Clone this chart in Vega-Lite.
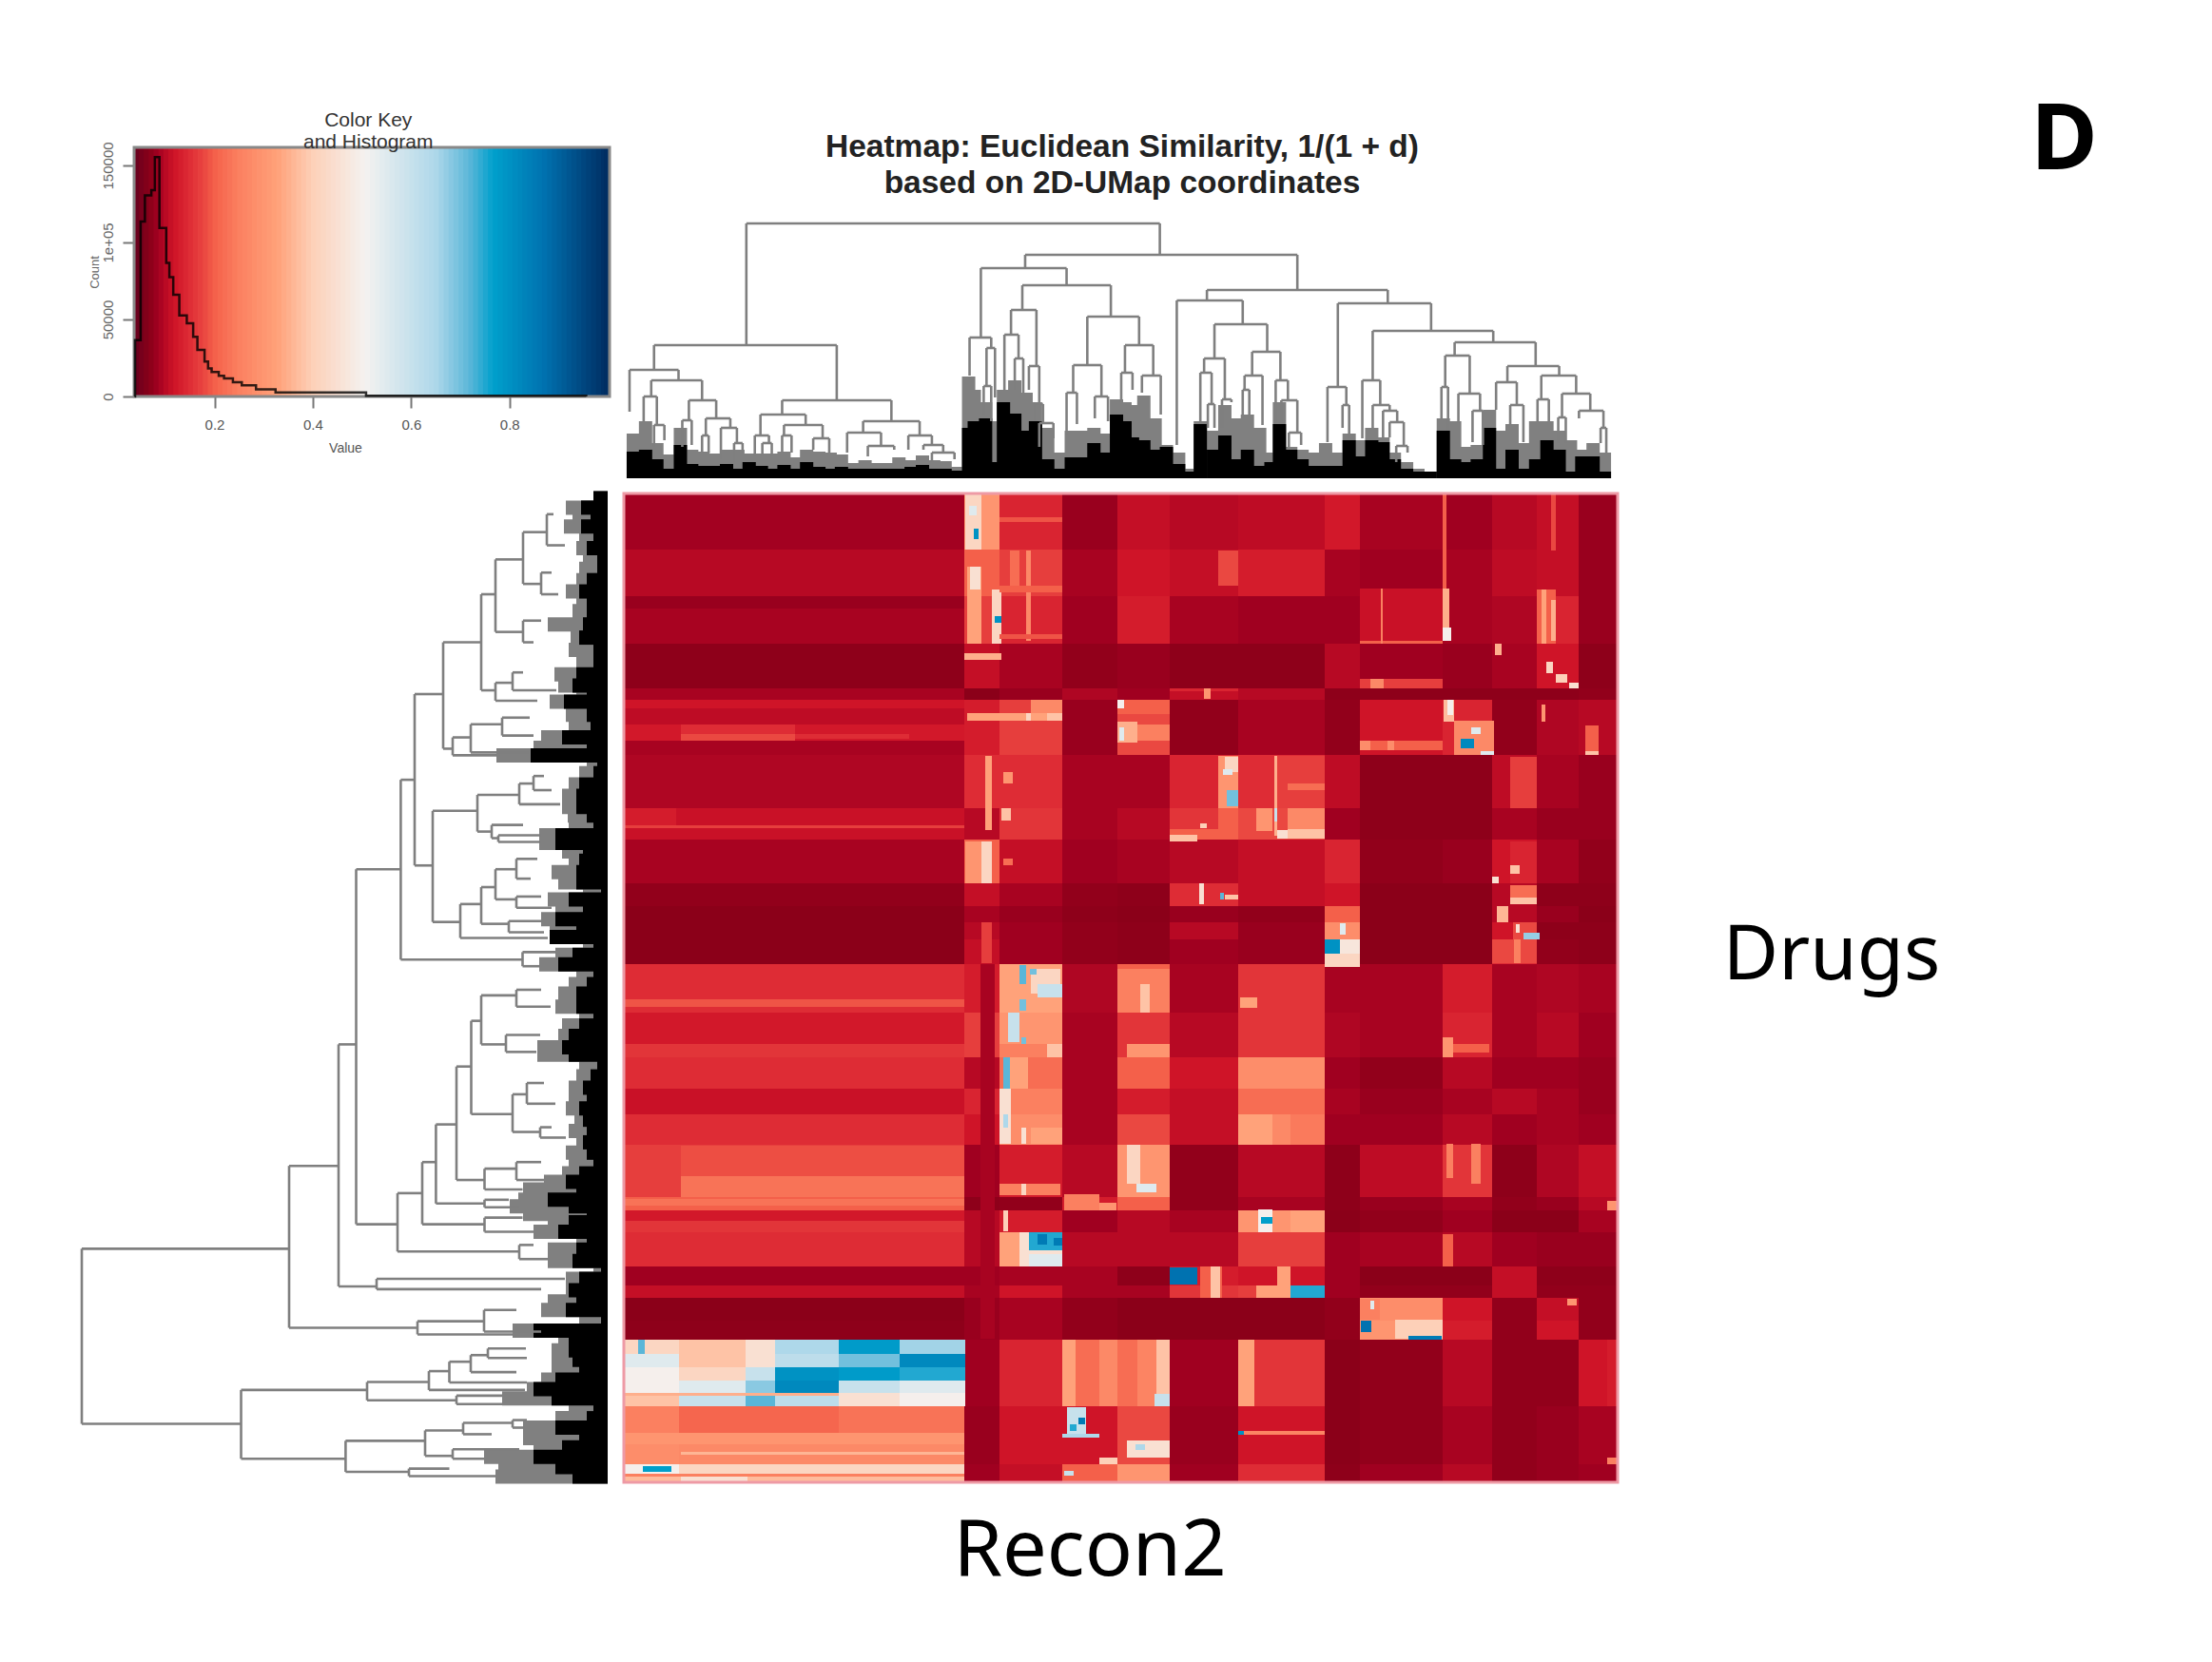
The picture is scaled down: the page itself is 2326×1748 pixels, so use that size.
{"$schema":"https://vega.github.io/schema/vega-lite/v6.json","background":"white","padding":{"left":84,"top":101,"right":10,"bottom":10},"columns":2,"bounds":"flat","align":"each","spacing":{"row":13,"column":11},"config":{"view":{"stroke":null}},
"datasets":{
"hist":[{"k":0.0375,"c":0},{"k":0.0385,"c":36500},{"k":0.0498,"c":113500},{"k":0.0585,"c":130600},{"k":0.0715,"c":134000},{"k":0.0787,"c":155400},{"k":0.0881,"c":109400},{"k":0.1018,"c":86700},{"k":0.1083,"c":77400},{"k":0.1162,"c":66000},{"k":0.1285,"c":52600},{"k":0.1437,"c":47500},{"k":0.1567,"c":38800},{"k":0.1653,"c":30300},{"k":0.1798,"c":22700},{"k":0.187,"c":18200},{"k":0.1942,"c":15900},{"k":0.2087,"c":13400},{"k":0.2195,"c":11800},{"k":0.2375,"c":9300},{"k":0.2556,"c":7200},{"k":0.2845,"c":4700},{"k":0.3242,"c":2700},{"k":0.5083,"c":500},{"k":0.956,"c":0}],
"grad":[{"k":0.042},{"k":0.052},{"k":0.062},{"k":0.072},{"k":0.082},{"k":0.092},{"k":0.102},{"k":0.112},{"k":0.122},{"k":0.132},{"k":0.142},{"k":0.152},{"k":0.162},{"k":0.172},{"k":0.182},{"k":0.192},{"k":0.202},{"k":0.212},{"k":0.222},{"k":0.232},{"k":0.242},{"k":0.252},{"k":0.262},{"k":0.272},{"k":0.282},{"k":0.292},{"k":0.302},{"k":0.312},{"k":0.322},{"k":0.332},{"k":0.342},{"k":0.352},{"k":0.362},{"k":0.372},{"k":0.382},{"k":0.392},{"k":0.402},{"k":0.412},{"k":0.422},{"k":0.432},{"k":0.442},{"k":0.452},{"k":0.462},{"k":0.472},{"k":0.482},{"k":0.492},{"k":0.502},{"k":0.512},{"k":0.522},{"k":0.532},{"k":0.542},{"k":0.552},{"k":0.562},{"k":0.572},{"k":0.582},{"k":0.592},{"k":0.602},{"k":0.612},{"k":0.622},{"k":0.632},{"k":0.642},{"k":0.652},{"k":0.662},{"k":0.672},{"k":0.682},{"k":0.692},{"k":0.702},{"k":0.712},{"k":0.722},{"k":0.732},{"k":0.742},{"k":0.752},{"k":0.762},{"k":0.772},{"k":0.782},{"k":0.792},{"k":0.802},{"k":0.812},{"k":0.822},{"k":0.832},{"k":0.842},{"k":0.852},{"k":0.862},{"k":0.872},{"k":0.882},{"k":0.892},{"k":0.902},{"k":0.912},{"k":0.922},{"k":0.932},{"k":0.942},{"k":0.952},{"k":0.962},{"k":0.972},{"k":0.982},{"k":0.992},{"k":0.998}],
"topTree":[{"l":125,"r":564,"h":268,"a":140,"b":235},{"l":421,"r":710,"h":235,"a":221,"b":198},{"l":374,"r":465,"h":221,"a":148,"b":203},{"l":418,"r":512,"h":203,"a":177,"b":170},{"l":406,"r":433,"h":177,"a":151,"b":118},{"l":399,"r":414,"h":151,"a":92,"b":126},{"l":410,"r":419,"h":126,"a":93,"b":90},{"l":425,"r":436,"h":118,"a":93,"b":78},{"l":431,"r":440,"h":78,"a":60,"b":58},{"l":436,"r":451,"h":58,"a":33,"b":42},{"l":362,"r":385,"h":148,"a":108,"b":137},{"l":380,"r":389,"h":137,"a":97,"b":85},{"l":377,"r":385,"h":97,"a":67,"b":60},{"l":487,"r":542,"h":170,"a":119,"b":140},{"l":472,"r":502,"h":119,"a":90,"b":86},{"l":465,"r":476,"h":90,"a":45,"b":57},{"l":495,"r":509,"h":86,"a":63,"b":60},{"l":527,"r":557,"h":140,"a":111,"b":108},{"l":523,"r":535,"h":111,"a":80,"b":93},{"l":545,"r":565,"h":108,"a":90,"b":67},{"l":614,"r":806,"h":198,"a":187,"b":184},{"l":582,"r":652,"h":187,"a":35,"b":162},{"l":622,"r":678,"h":162,"a":126,"b":133},{"l":611,"r":633,"h":126,"a":111,"b":83},{"l":607,"r":619,"h":111,"a":57,"b":78},{"l":615,"r":622,"h":78,"a":53,"b":53},{"l":630,"r":640,"h":83,"a":53,"b":80},{"l":662,"r":692,"h":133,"a":108,"b":103},{"l":654,"r":673,"h":108,"a":93,"b":56},{"l":652,"r":659,"h":93,"a":63,"b":67},{"l":687,"r":700,"h":103,"a":57,"b":82},{"l":693,"r":710,"h":82,"a":57,"b":48},{"l":701,"r":714,"h":48,"a":33,"b":35},{"l":753,"r":852,"h":184,"a":96,"b":155},{"l":742,"r":762,"h":96,"a":38,"b":77},{"l":758,"r":765,"h":77,"a":53,"b":42},{"l":790,"r":918,"h":155,"a":103,"b":143},{"l":779,"r":798,"h":103,"a":42,"b":77},{"l":790,"r":808,"h":77,"a":53,"b":71},{"l":801,"r":816,"h":71,"a":43,"b":59},{"l":808,"r":823,"h":59,"a":43,"b":34},{"l":815,"r":827,"h":34,"a":17,"b":27},{"l":877,"r":963,"h":143,"a":129,"b":118},{"l":867,"r":893,"h":129,"a":96,"b":89},{"l":863,"r":870,"h":96,"a":63,"b":50},{"l":881,"r":904,"h":89,"a":58,"b":71},{"l":896,"r":907,"h":71,"a":38,"b":35},{"l":933,"r":988,"h":118,"a":101,"b":108},{"l":921,"r":943,"h":101,"a":72,"b":77},{"l":936,"r":950,"h":77,"a":56,"b":38},{"l":969,"r":1006,"h":108,"a":83,"b":89},{"l":965,"r":977,"h":83,"a":60,"b":60},{"l":991,"r":1021,"h":89,"a":64,"b":71},{"l":987,"r":995,"h":64,"a":37,"b":37},{"l":1009,"r":1035,"h":71,"a":63,"b":53},{"l":1032,"r":1038,"h":53,"a":37,"b":27},{"l":27,"r":221,"h":140,"a":114,"b":82},{"l":1,"r":53,"h":114,"a":70,"b":103},{"l":24,"r":78,"h":103,"a":86,"b":82},{"l":16,"r":30,"h":86,"a":60,"b":56},{"l":27,"r":38,"h":56,"a":33,"b":40},{"l":64,"r":93,"h":82,"a":61,"b":63},{"l":57,"r":67,"h":61,"a":33,"b":35},{"l":82,"r":108,"h":63,"a":45,"b":53},{"l":78,"r":85,"h":45,"a":27,"b":27},{"l":98,"r":115,"h":53,"a":20,"b":37},{"l":112,"r":121,"h":37,"a":17,"b":27},{"l":163,"r":279,"h":82,"a":67,"b":60},{"l":140,"r":188,"h":67,"a":45,"b":56},{"l":134,"r":149,"h":45,"a":23,"b":37},{"l":142,"r":152,"h":37,"a":23,"b":23},{"l":165,"r":206,"h":56,"a":45,"b":42},{"l":163,"r":173,"h":45,"a":27,"b":27},{"l":196,"r":213,"h":42,"a":30,"b":27},{"l":249,"r":309,"h":60,"a":48,"b":45},{"l":232,"r":268,"h":48,"a":27,"b":34},{"l":254,"r":282,"h":34,"a":23,"b":30},{"l":297,"r":322,"h":45,"a":30,"b":35},{"l":313,"r":334,"h":35,"a":30,"b":27},{"l":322,"r":346,"h":27,"a":17,"b":20}],
"topComb":[{"x":5,"g":47,"b":28},{"x":9,"g":32,"b":12},{"x":18,"g":60,"b":30},{"x":30,"g":37,"b":20},{"x":43,"g":25,"b":10},{"x":55,"g":53,"b":35},{"x":67,"g":30,"b":15},{"x":79,"g":28,"b":13},{"x":91,"g":26,"b":13},{"x":104,"g":30,"b":15},{"x":116,"g":30,"b":10},{"x":128,"g":26,"b":17},{"x":141,"g":26,"b":13},{"x":153,"g":26,"b":10},{"x":165,"g":28,"b":14},{"x":177,"g":22,"b":10},{"x":189,"g":30,"b":17},{"x":202,"g":28,"b":12},{"x":214,"g":27,"b":10},{"x":226,"g":25,"b":12},{"x":238,"g":16,"b":10},{"x":251,"g":19,"b":10},{"x":263,"g":16,"b":10},{"x":275,"g":16,"b":10},{"x":287,"g":22,"b":10},{"x":300,"g":19,"b":12},{"x":312,"g":24,"b":14},{"x":324,"g":19,"b":10},{"x":336,"g":18,"b":10},{"x":349,"g":12,"b":8},{"x":361,"g":107,"b":53},{"x":367,"g":93,"b":60},{"x":379,"g":80,"b":63},{"x":391,"g":60,"b":17},{"x":398,"g":93,"b":80},{"x":410,"g":103,"b":68},{"x":422,"g":90,"b":50},{"x":432,"g":80,"b":60},{"x":445,"g":53,"b":20},{"x":457,"g":27,"b":10},{"x":470,"g":50,"b":22},{"x":482,"g":50,"b":22},{"x":494,"g":53,"b":37},{"x":506,"g":47,"b":27},{"x":518,"g":83,"b":67},{"x":527,"g":80,"b":60},{"x":535,"g":77,"b":43},{"x":547,"g":87,"b":40},{"x":559,"g":63,"b":30},{"x":571,"g":35,"b":33},{"x":584,"g":27,"b":15},{"x":596,"g":10,"b":7},{"x":607,"g":60,"b":57},{"x":621,"g":50,"b":30},{"x":633,"g":77,"b":45},{"x":645,"g":63,"b":20},{"x":657,"g":67,"b":30},{"x":670,"g":53,"b":13},{"x":682,"g":27,"b":17},{"x":691,"g":80,"b":57},{"x":703,"g":33,"b":30},{"x":715,"g":30,"b":20},{"x":728,"g":27,"b":13},{"x":740,"g":37,"b":13},{"x":752,"g":27,"b":13},{"x":765,"g":47,"b":40},{"x":777,"g":40,"b":23},{"x":789,"g":53,"b":40},{"x":801,"g":43,"b":38},{"x":813,"g":27,"b":20},{"x":826,"g":17,"b":10},{"x":838,"g":10,"b":7},{"x":851,"g":7,"b":7},{"x":865,"g":63,"b":50},{"x":877,"g":60,"b":20},{"x":889,"g":33,"b":17},{"x":901,"g":35,"b":20},{"x":914,"g":72,"b":53},{"x":926,"g":50,"b":10},{"x":938,"g":57,"b":30},{"x":951,"g":37,"b":10},{"x":963,"g":60,"b":20},{"x":975,"g":60,"b":40},{"x":988,"g":50,"b":30},{"x":1000,"g":40,"b":7},{"x":1012,"g":30,"b":23},{"x":1024,"g":37,"b":23},{"x":1036,"g":27,"b":7}],
"leftTree":[{"d":553,"t":797,"u":983,"a":335,"b":385.5},{"d":335,"t":709,"u":881,"a":283,"b":200},{"d":283,"t":580,"u":837,"a":264.5,"b":243},{"d":264.5,"t":394,"u":771,"a":217.6,"b":221},{"d":217.6,"t":299,"u":490,"a":203,"b":89.5},{"d":203,"t":208,"u":390,"a":173,"b":184},{"d":173,"t":153,"u":266,"a":133,"b":163},{"d":133,"t":102,"u":204,"a":118,"b":118},{"d":118,"t":65,"u":142,"a":89,"b":89},{"d":89,"t":36,"u":91,"a":64,"b":70},{"d":64,"t":17,"u":50,"a":57,"b":45},{"d":70,"t":79,"u":102,"a":59,"b":52},{"d":89,"t":130,"u":153,"a":70,"b":78},{"d":118,"t":196,"u":215,"a":100,"b":74},{"d":100,"t":185,"u":204,"a":89,"b":54},{"d":163,"t":254,"u":273,"a":144,"b":116.5},{"d":144,"t":240,"u":270,"a":111,"b":83},{"d":111,"t":233,"u":252,"a":82,"b":78},{"d":184,"t":332,"u":450,"a":137,"b":155},{"d":137,"t":315,"u":354,"a":93,"b":122},{"d":93,"t":303,"u":325,"a":78,"b":50},{"d":78,"t":295,"u":310,"a":67,"b":59},{"d":122,"t":347,"u":361,"a":89,"b":115},{"d":115,"t":358,"u":365,"a":70,"b":70},{"d":155,"t":431,"u":467,"a":133,"b":63},{"d":133,"t":413,"u":452,"a":118,"b":104},{"d":118,"t":394,"u":426,"a":96,"b":96},{"d":96,"t":383,"u":404,"a":74,"b":81},{"d":96,"t":423,"u":435,"a":70,"b":59},{"d":104,"t":449,"u":461,"a":70,"b":67},{"d":89.5,"t":482,"u":497,"a":55,"b":71},{"d":221,"t":738,"u":800,"a":195,"b":93},{"d":195,"t":705,"u":771,"a":180.6,"b":129.5},{"d":180.6,"t":665,"u":749,"a":159,"b":129.5},{"d":159,"t":603.5,"u":724,"a":143.5,"b":129.5},{"d":143.5,"t":555,"u":654,"a":133,"b":100},{"d":133,"t":528,"u":580,"a":96,"b":107},{"d":96,"t":522,"u":540,"a":70,"b":60},{"d":107,"t":570,"u":588,"a":71,"b":75},{"d":100,"t":633,"u":673,"a":85,"b":71},{"d":85,"t":621,"u":643,"a":67,"b":55},{"d":71,"t":668,"u":679,"a":59,"b":44},{"d":129.5,"t":712,"u":734,"a":96,"b":89.5},{"d":96,"t":705,"u":724,"a":70,"b":67},{"d":129.5,"t":745,"u":753,"a":104,"b":93},{"d":129.5,"t":764,"u":779,"a":89.5,"b":78},{"d":93,"t":793,"u":808,"a":78,"b":63},{"d":243,"t":829,"u":840,"a":45,"b":70},{"d":200,"t":874,"u":888,"a":130,"b":100},{"d":130,"t":862,"u":885,"a":96,"b":70},{"d":385.5,"t":947,"u":1020,"a":253,"b":275.6},{"d":253,"t":938.6,"u":958,"a":188,"b":159},{"d":188,"t":927,"u":947,"a":166.5,"b":87},{"d":166.5,"t":917,"u":939,"a":144,"b":85},{"d":144,"t":910,"u":928,"a":126,"b":96},{"d":126,"t":903,"u":913,"a":86,"b":85},{"d":159,"t":953,"u":962,"a":111,"b":111},{"d":275.6,"t":1001,"u":1034,"a":192,"b":209},{"d":192,"t":990,"u":1017,"a":152,"b":163},{"d":152,"t":982,"u":994,"a":100,"b":122},{"d":100,"t":979,"u":987,"a":85,"b":87},{"d":163,"t":1010,"u":1020,"a":93,"b":130},{"d":209,"t":1030.5,"u":1038.5,"a":166.5,"b":118}],
"leftComb":[{"v":0,"g":15,"b":15},{"v":10,"g":44,"b":28},{"v":22,"g":37,"b":18},{"v":30,"g":46,"b":28},{"v":41,"g":30,"b":15},{"v":53,"g":33,"b":22},{"v":63,"g":26,"b":11},{"v":75,"g":30,"b":11},{"v":87,"g":33,"b":22},{"v":99,"g":44,"b":30},{"v":110,"g":33,"b":22},{"v":120,"g":37,"b":22},{"v":134,"g":63,"b":26},{"v":148,"g":39,"b":30},{"v":161,"g":41,"b":15},{"v":175,"g":33,"b":15},{"v":187,"g":56,"b":33},{"v":199,"g":52,"b":37},{"v":208,"g":33,"b":22},{"v":216,"g":61,"b":46},{"v":230,"g":44,"b":22},{"v":241,"g":41,"b":18},{"v":254,"g":70,"b":48},{"v":265,"g":78,"b":22},{"v":273,"g":117,"b":81},{"v":280,"g":22,"b":11},{"v":292,"g":30,"b":15},{"v":304,"g":41,"b":30},{"v":316,"g":48,"b":33},{"v":328,"g":48,"b":33},{"v":337,"g":42,"b":22},{"v":347,"g":41,"b":15},{"v":358,"g":72,"b":55},{"v":366,"g":72,"b":55},{"v":375,"g":48,"b":26},{"v":385,"g":41,"b":30},{"v":397,"g":59,"b":33},{"v":408,"g":52,"b":33},{"v":416,"g":26,"b":7},{"v":426,"g":63,"b":41},{"v":439,"g":55,"b":26},{"v":447,"g":70,"b":55},{"v":456,"g":61,"b":33},{"v":466,"g":61,"b":61},{"v":475,"g":26,"b":15},{"v":485,"g":55,"b":37},{"v":495,"g":72,"b":52},{"v":506,"g":33,"b":15},{"v":516,"g":41,"b":22},{"v":526,"g":52,"b":33},{"v":540,"g":55,"b":33},{"v":550,"g":30,"b":15},{"v":560,"g":48,"b":30},{"v":571,"g":52,"b":41},{"v":583,"g":74,"b":48},{"v":591,"g":74,"b":41},{"v":602,"g":30,"b":11},{"v":614,"g":33,"b":18},{"v":626,"g":41,"b":26},{"v":638,"g":41,"b":22},{"v":648,"g":44,"b":30},{"v":660,"g":35,"b":26},{"v":672,"g":41,"b":22},{"v":684,"g":33,"b":26},{"v":695,"g":44,"b":22},{"v":705,"g":41,"b":15},{"v":717,"g":48,"b":30},{"v":726,"g":67,"b":44},{"v":734,"g":89,"b":33},{"v":745,"g":94,"b":63},{"v":752,"g":103,"b":41},{"v":760,"g":89,"b":22},{"v":769,"g":63,"b":41},{"v":779,"g":78,"b":52},{"v":788,"g":33,"b":22},{"v":798,"g":63,"b":33},{"v":810,"g":63,"b":37},{"v":817,"g":15,"b":7},{"v":829,"g":44,"b":30},{"v":841,"g":44,"b":41},{"v":853,"g":63,"b":33},{"v":862,"g":70,"b":44},{"v":872,"g":30,"b":7},{"v":884,"g":100,"b":78},{"v":893,"g":52,"b":41},{"v":905,"g":59,"b":41},{"v":915,"g":59,"b":37},{"v":925,"g":59,"b":30},{"v":936,"g":70,"b":55},{"v":946,"g":85,"b":78},{"v":956,"g":111,"b":59},{"v":967,"g":41,"b":15},{"v":977,"g":55,"b":22},{"v":987,"g":89,"b":55},{"v":998,"g":89,"b":30},{"v":1008,"g":78,"b":48},{"v":1018,"g":130,"b":78},{"v":1029,"g":115,"b":55},{"v":1039,"g":118,"b":37}]
},
"concat":[
{"width":556,"height":262,"layer":[
{"data":{"name":"grad"},"mark":{"type":"rule","strokeWidth":6},"encoding":{"x":{"field":"k","type":"quantitative","scale":{"domain":[-0.0718,1.0036],"nice":false,"zero":false},"axis":{"values":[0.2,0.4,0.6,0.8],"format":".1f","domain":false,"grid":false,"title":"Value","labelFontSize":15,"labelColor":"#555","titleFontSize":14,"titleColor":"#555","titleFontWeight":"normal","tickColor":"#777","tickWidth":2,"tickSize":12,"labelPadding":10,"titlePadding":10,"labelFont":"Liberation Sans","titleFont":"Liberation Sans"}},"y":{"datum":0,"scale":{"domain":[0,161700],"nice":false},"axis":{"values":[0,50000,100000,150000],"labelExpr":"datum.value==100000?'1e+05':''+datum.value","offset":-56,"domain":false,"grid":false,"title":"Count","labelAngle":-90,"labelAlign":"center","labelBaseline":"bottom","labelFontSize":15,"labelColor":"#666","titleFontSize":13,"titleColor":"#666","titleFontWeight":"normal","tickColor":"#777","tickWidth":2,"tickSize":12,"labelPadding":8,"titlePadding":0,"labelFont":"Liberation Sans","titleFont":"Liberation Sans"}},"y2":{"datum":161700},"color":{"field":"k","type":"quantitative","legend":null,"scale":{"interpolate":"rgb","domain":[0.037,0.07,0.085,0.105,0.12,0.15,0.175,0.2,0.25,0.33,0.4,0.508,0.65,0.72,0.768,0.87,1],"range":["#67001f","#8b0019","#a00020","#be0c25","#cf1428","#de2c35","#e8423f","#f4604a","#fb8060","#ffa27a","#fdd0b8","#f4f2f0","#aed8ea","#5ab6d8","#00a0cc","#0072b0","#002d62"]}}}},
{"data":{"values":[{"k":0.0366,"k2":1.0036,"c":0,"c2":161700}]},"mark":{"type":"rect","fill":null,"stroke":"#888888","strokeWidth":3},"encoding":{"x":{"field":"k","type":"quantitative"},"x2":{"field":"k2"},"y":{"field":"c","type":"quantitative"},"y2":{"field":"c2"}}},
{"data":{"name":"hist"},"mark":{"type":"line","interpolate":"step-after","color":"#000000","strokeWidth":2.5,"opacity":0.8},"encoding":{"x":{"field":"k","type":"quantitative"},"y":{"field":"c","type":"quantitative"}}},
{"data":{"values":[{"k":0.5128,"c":179000,"t":"Color Key"},{"k":0.5128,"c":164800,"t":"and Histogram"}]},"mark":{"type":"text","font":"Liberation Sans","fontSize":21,"color":"#333333"},"encoding":{"x":{"field":"k","type":"quantitative"},"y":{"field":"c","type":"quantitative"},"text":{"field":"t"}}}
]},
{"width":1045,"height":348,"layer":[
{"data":{"name":"topComb"},"mark":{"type":"bar","size":14,"orient":"vertical","color":"#808080"},"encoding":{"x":{"field":"x","type":"quantitative","scale":{"domain":[0,1045],"nice":false,"zero":false},"axis":null},"y":{"field":"g","type":"quantitative","scale":{"domain":[0,348],"nice":false},"axis":null}}},
{"data":{"name":"topComb"},"mark":{"type":"bar","size":14,"orient":"vertical","color":"#000000"},"encoding":{"x":{"field":"x","type":"quantitative"},"y":{"field":"b","type":"quantitative"}}},
{"data":{"name":"topTree"},"mark":{"type":"rule","color":"#7f7f7f","strokeWidth":2.6},"encoding":{"x":{"field":"l","type":"quantitative"},"x2":{"field":"r"},"y":{"field":"h","type":"quantitative"}}},
{"data":{"name":"topTree"},"mark":{"type":"rule","color":"#7f7f7f","strokeWidth":2.6},"encoding":{"x":{"field":"l","type":"quantitative"},"y":{"field":"h","type":"quantitative"},"y2":{"field":"a"}}},
{"data":{"name":"topTree"},"mark":{"type":"rule","color":"#7f7f7f","strokeWidth":2.6},"encoding":{"x":{"field":"r","type":"quantitative"},"y":{"field":"h","type":"quantitative"},"y2":{"field":"b"}}},
{"data":{"values":[{"x":524,"h":348,"t":"Heatmap: Euclidean Similarity, 1/(1 + d)"},{"x":524,"h":310,"t":"based on 2D-UMap coordinates"}]},"mark":{"type":"text","font":"Liberation Sans","fontWeight":"bold","fontSize":33.5,"color":"#222222"},"encoding":{"x":{"field":"x","type":"quantitative"},"y":{"field":"h","type":"quantitative"},"text":{"field":"t"}}},
{"data":{"values":[{"x":1524,"h":354,"t":"D"}]},"mark":{"type":"text","font":"Open Sans","fontWeight":"bold","fontSize":96,"color":"#000000"},"encoding":{"x":{"field":"x","type":"quantitative"},"y":{"field":"h","type":"quantitative"},"text":{"field":"t"}}}
]},
{"width":556,"height":1040,"layer":[
{"data":{"name":"leftComb"},"mark":{"type":"bar","size":15,"orient":"horizontal","color":"#808080"},"encoding":{"y":{"field":"v","type":"quantitative","scale":{"domain":[0,1040],"reverse":true,"nice":false,"zero":false},"axis":null},"x":{"field":"g","type":"quantitative","scale":{"domain":[554,-2],"nice":false},"axis":null}}},
{"data":{"name":"leftComb"},"mark":{"type":"bar","size":15,"orient":"horizontal","color":"#000000"},"encoding":{"y":{"field":"v","type":"quantitative"},"x":{"field":"b","type":"quantitative"}}},
{"data":{"name":"leftTree"},"mark":{"type":"rule","color":"#7f7f7f","strokeWidth":2.6},"encoding":{"x":{"field":"d","type":"quantitative"},"y":{"field":"t","type":"quantitative"},"y2":{"field":"u"}}},
{"data":{"name":"leftTree"},"mark":{"type":"rule","color":"#7f7f7f","strokeWidth":2.6},"encoding":{"x":{"field":"d","type":"quantitative"},"x2":{"field":"a"},"y":{"field":"t","type":"quantitative"}}},
{"data":{"name":"leftTree"},"mark":{"type":"rule","color":"#7f7f7f","strokeWidth":2.6},"encoding":{"x":{"field":"d","type":"quantitative"},"x2":{"field":"b"},"y":{"field":"u","type":"quantitative"}}}
]},
{"width":1045,"height":1040,"layer":[
{"data":{"values":[{"x":0,"e":358,"y":0,"f":59,"v":0.087},{"x":358,"e":395,"y":0,"f":59,"v":0.3},{"x":395,"e":461,"y":0,"f":59,"v":0.14},{"x":461,"e":519,"y":0,"f":59,"v":0.08},{"x":519,"e":574,"y":0,"f":59,"v":0.11},{"x":574,"e":646,"y":0,"f":59,"v":0.1},{"x":646,"e":737,"y":0,"f":59,"v":0.105},{"x":737,"e":774,"y":0,"f":59,"v":0.125},{"x":774,"e":861,"y":0,"f":59,"v":0.09},{"x":861,"e":913,"y":0,"f":59,"v":0.085},{"x":913,"e":960,"y":0,"f":59,"v":0.1},{"x":960,"e":1004,"y":0,"f":59,"v":0.11},{"x":1004,"e":1045,"y":0,"f":59,"v":0.08},
{"x":0,"e":358,"y":59,"f":108,"v":0.1},{"x":358,"e":395,"y":59,"f":108,"v":0.2},{"x":395,"e":461,"y":59,"f":108,"v":0.17},{"x":461,"e":519,"y":59,"f":108,"v":0.09},{"x":519,"e":574,"y":59,"f":108,"v":0.12},{"x":574,"e":646,"y":59,"f":108,"v":0.11},{"x":646,"e":737,"y":59,"f":108,"v":0.13},{"x":737,"e":774,"y":59,"f":108,"v":0.09},{"x":774,"e":861,"y":59,"f":108,"v":0.085},{"x":861,"e":913,"y":59,"f":108,"v":0.09},{"x":913,"e":960,"y":59,"f":108,"v":0.105},{"x":960,"e":1004,"y":59,"f":108,"v":0.11},{"x":1004,"e":1045,"y":59,"f":108,"v":0.08},
{"x":0,"e":358,"y":108,"f":158,"v":0.09},{"x":358,"e":395,"y":108,"f":158,"v":0.17},{"x":395,"e":461,"y":108,"f":158,"v":0.14},{"x":461,"e":519,"y":108,"f":158,"v":0.085},{"x":519,"e":574,"y":108,"f":158,"v":0.13},{"x":574,"e":646,"y":108,"f":158,"v":0.09},{"x":646,"e":737,"y":108,"f":158,"v":0.085},{"x":737,"e":774,"y":108,"f":158,"v":0.085},{"x":774,"e":861,"y":108,"f":158,"v":0.11},{"x":861,"e":913,"y":108,"f":158,"v":0.09},{"x":913,"e":960,"y":108,"f":158,"v":0.095},{"x":960,"e":1004,"y":108,"f":158,"v":0.14},{"x":1004,"e":1045,"y":108,"f":158,"v":0.08},
{"x":0,"e":358,"y":158,"f":205,"v":0.072},{"x":358,"e":395,"y":158,"f":205,"v":0.11},{"x":395,"e":461,"y":158,"f":205,"v":0.09},{"x":461,"e":519,"y":158,"f":205,"v":0.075},{"x":519,"e":574,"y":158,"f":205,"v":0.08},{"x":574,"e":646,"y":158,"f":205,"v":0.072},{"x":646,"e":737,"y":158,"f":205,"v":0.072},{"x":737,"e":774,"y":158,"f":205,"v":0.1},{"x":774,"e":861,"y":158,"f":205,"v":0.085},{"x":861,"e":913,"y":158,"f":205,"v":0.08},{"x":913,"e":960,"y":158,"f":205,"v":0.09},{"x":960,"e":1004,"y":158,"f":205,"v":0.12},{"x":1004,"e":1045,"y":158,"f":205,"v":0.072},
{"x":0,"e":358,"y":205,"f":217,"v":0.09},{"x":358,"e":395,"y":205,"f":217,"v":0.07},{"x":395,"e":461,"y":205,"f":217,"v":0.08},{"x":461,"e":519,"y":205,"f":217,"v":0.095},{"x":519,"e":574,"y":205,"f":217,"v":0.085},{"x":574,"e":646,"y":205,"f":217,"v":0.11},{"x":646,"e":737,"y":205,"f":217,"v":0.1},{"x":737,"e":774,"y":205,"f":217,"v":0.072},{"x":774,"e":861,"y":205,"f":217,"v":0.072},{"x":861,"e":913,"y":205,"f":217,"v":0.072},{"x":913,"e":960,"y":205,"f":217,"v":0.072},{"x":960,"e":1004,"y":205,"f":217,"v":0.072},{"x":1004,"e":1045,"y":205,"f":217,"v":0.075},
{"x":0,"e":358,"y":217,"f":275,"v":0.11},{"x":358,"e":395,"y":217,"f":275,"v":0.13},{"x":395,"e":461,"y":217,"f":275,"v":0.17},{"x":461,"e":519,"y":217,"f":275,"v":0.08},{"x":519,"e":574,"y":217,"f":275,"v":0.18},{"x":574,"e":646,"y":217,"f":275,"v":0.075},{"x":646,"e":737,"y":217,"f":275,"v":0.09},{"x":737,"e":774,"y":217,"f":275,"v":0.075},{"x":774,"e":861,"y":217,"f":275,"v":0.12},{"x":861,"e":913,"y":217,"f":275,"v":0.14},{"x":913,"e":960,"y":217,"f":275,"v":0.075},{"x":960,"e":1004,"y":217,"f":275,"v":0.095},{"x":1004,"e":1045,"y":217,"f":275,"v":0.1},
{"x":0,"e":358,"y":275,"f":331,"v":0.095},{"x":358,"e":395,"y":275,"f":331,"v":0.15},{"x":395,"e":461,"y":275,"f":331,"v":0.15},{"x":461,"e":519,"y":275,"f":331,"v":0.09},{"x":519,"e":574,"y":275,"f":331,"v":0.09},{"x":574,"e":646,"y":275,"f":331,"v":0.14},{"x":646,"e":737,"y":275,"f":331,"v":0.15},{"x":737,"e":774,"y":275,"f":331,"v":0.105},{"x":774,"e":861,"y":275,"f":331,"v":0.072},{"x":861,"e":913,"y":275,"f":331,"v":0.072},{"x":913,"e":960,"y":275,"f":331,"v":0.105},{"x":960,"e":1004,"y":275,"f":331,"v":0.09},{"x":1004,"e":1045,"y":275,"f":331,"v":0.08},
{"x":0,"e":358,"y":331,"f":364,"v":0.115},{"x":358,"e":395,"y":331,"f":364,"v":0.1},{"x":395,"e":461,"y":331,"f":364,"v":0.16},{"x":461,"e":519,"y":331,"f":364,"v":0.09},{"x":519,"e":574,"y":331,"f":364,"v":0.1},{"x":574,"e":646,"y":331,"f":364,"v":0.16},{"x":646,"e":737,"y":331,"f":364,"v":0.18},{"x":737,"e":774,"y":331,"f":364,"v":0.085},{"x":774,"e":861,"y":331,"f":364,"v":0.072},{"x":861,"e":913,"y":331,"f":364,"v":0.072},{"x":913,"e":960,"y":331,"f":364,"v":0.09},{"x":960,"e":1004,"y":331,"f":364,"v":0.08},{"x":1004,"e":1045,"y":331,"f":364,"v":0.08},
{"x":0,"e":358,"y":364,"f":410,"v":0.09},{"x":358,"e":395,"y":364,"f":410,"v":0.2},{"x":395,"e":461,"y":364,"f":410,"v":0.11},{"x":461,"e":519,"y":364,"f":410,"v":0.085},{"x":519,"e":574,"y":364,"f":410,"v":0.09},{"x":574,"e":646,"y":364,"f":410,"v":0.1},{"x":646,"e":737,"y":364,"f":410,"v":0.11},{"x":737,"e":774,"y":364,"f":410,"v":0.14},{"x":774,"e":861,"y":364,"f":410,"v":0.075},{"x":861,"e":913,"y":364,"f":410,"v":0.08},{"x":913,"e":960,"y":364,"f":410,"v":0.12},{"x":960,"e":1004,"y":364,"f":410,"v":0.09},{"x":1004,"e":1045,"y":364,"f":410,"v":0.075},
{"x":0,"e":358,"y":410,"f":434,"v":0.075},{"x":358,"e":395,"y":410,"f":434,"v":0.11},{"x":395,"e":461,"y":410,"f":434,"v":0.09},{"x":461,"e":519,"y":410,"f":434,"v":0.075},{"x":519,"e":574,"y":410,"f":434,"v":0.072},{"x":574,"e":646,"y":410,"f":434,"v":0.15},{"x":646,"e":737,"y":410,"f":434,"v":0.11},{"x":737,"e":774,"y":410,"f":434,"v":0.12},{"x":774,"e":861,"y":410,"f":434,"v":0.07},{"x":861,"e":913,"y":410,"f":434,"v":0.07},{"x":913,"e":960,"y":410,"f":434,"v":0.1},{"x":960,"e":1004,"y":410,"f":434,"v":0.072},{"x":1004,"e":1045,"y":410,"f":434,"v":0.072},
{"x":0,"e":358,"y":434,"f":451,"v":0.07},{"x":358,"e":395,"y":434,"f":451,"v":0.09},{"x":395,"e":461,"y":434,"f":451,"v":0.08},{"x":461,"e":519,"y":434,"f":451,"v":0.072},{"x":519,"e":574,"y":434,"f":451,"v":0.07},{"x":574,"e":646,"y":434,"f":451,"v":0.08},{"x":646,"e":737,"y":434,"f":451,"v":0.075},{"x":737,"e":774,"y":434,"f":451,"v":0.2},{"x":774,"e":861,"y":434,"f":451,"v":0.07},{"x":861,"e":913,"y":434,"f":451,"v":0.07},{"x":913,"e":960,"y":434,"f":451,"v":0.1},{"x":960,"e":1004,"y":434,"f":451,"v":0.08},{"x":1004,"e":1045,"y":434,"f":451,"v":0.07},
{"x":0,"e":358,"y":451,"f":469,"v":0.07},{"x":358,"e":395,"y":451,"f":469,"v":0.1},{"x":395,"e":461,"y":451,"f":469,"v":0.085},{"x":461,"e":519,"y":451,"f":469,"v":0.075},{"x":519,"e":574,"y":451,"f":469,"v":0.072},{"x":574,"e":646,"y":451,"f":469,"v":0.1},{"x":646,"e":737,"y":451,"f":469,"v":0.08},{"x":737,"e":774,"y":451,"f":469,"v":0.28},{"x":774,"e":861,"y":451,"f":469,"v":0.07},{"x":861,"e":913,"y":451,"f":469,"v":0.07},{"x":913,"e":960,"y":451,"f":469,"v":0.12},{"x":960,"e":1004,"y":451,"f":469,"v":0.072},{"x":1004,"e":1045,"y":451,"f":469,"v":0.072},
{"x":0,"e":358,"y":469,"f":495,"v":0.07},{"x":358,"e":395,"y":469,"f":495,"v":0.11},{"x":395,"e":461,"y":469,"f":495,"v":0.085},{"x":461,"e":519,"y":469,"f":495,"v":0.075},{"x":519,"e":574,"y":469,"f":495,"v":0.072},{"x":574,"e":646,"y":469,"f":495,"v":0.085},{"x":646,"e":737,"y":469,"f":495,"v":0.08},{"x":737,"e":774,"y":469,"f":495,"v":0.11},{"x":774,"e":861,"y":469,"f":495,"v":0.07},{"x":861,"e":913,"y":469,"f":495,"v":0.07},{"x":913,"e":960,"y":469,"f":495,"v":0.15},{"x":960,"e":1004,"y":469,"f":495,"v":0.075},{"x":1004,"e":1045,"y":469,"f":495,"v":0.072},
{"x":0,"e":358,"y":495,"f":546,"v":0.15},{"x":358,"e":395,"y":495,"f":546,"v":0.13},{"x":395,"e":461,"y":495,"f":546,"v":0.25},{"x":461,"e":519,"y":495,"f":546,"v":0.095},{"x":519,"e":574,"y":495,"f":546,"v":0.25},{"x":574,"e":646,"y":495,"f":546,"v":0.09},{"x":646,"e":737,"y":495,"f":546,"v":0.16},{"x":737,"e":774,"y":495,"f":546,"v":0.09},{"x":774,"e":861,"y":495,"f":546,"v":0.09},{"x":861,"e":913,"y":495,"f":546,"v":0.13},{"x":913,"e":960,"y":495,"f":546,"v":0.09},{"x":960,"e":1004,"y":495,"f":546,"v":0.095},{"x":1004,"e":1045,"y":495,"f":546,"v":0.09},
{"x":0,"e":358,"y":546,"f":593,"v":0.125},{"x":358,"e":395,"y":546,"f":593,"v":0.17},{"x":395,"e":461,"y":546,"f":593,"v":0.3},{"x":461,"e":519,"y":546,"f":593,"v":0.09},{"x":519,"e":574,"y":546,"f":593,"v":0.16},{"x":574,"e":646,"y":546,"f":593,"v":0.1},{"x":646,"e":737,"y":546,"f":593,"v":0.16},{"x":737,"e":774,"y":546,"f":593,"v":0.095},{"x":774,"e":861,"y":546,"f":593,"v":0.09},{"x":861,"e":913,"y":546,"f":593,"v":0.14},{"x":913,"e":960,"y":546,"f":593,"v":0.09},{"x":960,"e":1004,"y":546,"f":593,"v":0.1},{"x":1004,"e":1045,"y":546,"f":593,"v":0.085},
{"x":0,"e":358,"y":593,"f":626,"v":0.15},{"x":358,"e":395,"y":593,"f":626,"v":0.1},{"x":395,"e":461,"y":593,"f":626,"v":0.22},{"x":461,"e":519,"y":593,"f":626,"v":0.09},{"x":519,"e":574,"y":593,"f":626,"v":0.2},{"x":574,"e":646,"y":593,"f":626,"v":0.12},{"x":646,"e":737,"y":593,"f":626,"v":0.28},{"x":737,"e":774,"y":593,"f":626,"v":0.085},{"x":774,"e":861,"y":593,"f":626,"v":0.075},{"x":861,"e":913,"y":593,"f":626,"v":0.1},{"x":913,"e":960,"y":593,"f":626,"v":0.085},{"x":960,"e":1004,"y":593,"f":626,"v":0.085},{"x":1004,"e":1045,"y":593,"f":626,"v":0.08},
{"x":0,"e":358,"y":626,"f":653,"v":0.115},{"x":358,"e":395,"y":626,"f":653,"v":0.14},{"x":395,"e":461,"y":626,"f":653,"v":0.25},{"x":461,"e":519,"y":626,"f":653,"v":0.09},{"x":519,"e":574,"y":626,"f":653,"v":0.13},{"x":574,"e":646,"y":626,"f":653,"v":0.11},{"x":646,"e":737,"y":626,"f":653,"v":0.22},{"x":737,"e":774,"y":626,"f":653,"v":0.09},{"x":774,"e":861,"y":626,"f":653,"v":0.08},{"x":861,"e":913,"y":626,"f":653,"v":0.09},{"x":913,"e":960,"y":626,"f":653,"v":0.1},{"x":960,"e":1004,"y":626,"f":653,"v":0.09},{"x":1004,"e":1045,"y":626,"f":653,"v":0.08},
{"x":0,"e":358,"y":653,"f":685,"v":0.15},{"x":358,"e":395,"y":653,"f":685,"v":0.12},{"x":395,"e":461,"y":653,"f":685,"v":0.28},{"x":461,"e":519,"y":653,"f":685,"v":0.09},{"x":519,"e":574,"y":653,"f":685,"v":0.18},{"x":574,"e":646,"y":653,"f":685,"v":0.11},{"x":646,"e":737,"y":653,"f":685,"v":0.27},{"x":737,"e":774,"y":653,"f":685,"v":0.085},{"x":774,"e":861,"y":653,"f":685,"v":0.085},{"x":861,"e":913,"y":653,"f":685,"v":0.1},{"x":913,"e":960,"y":653,"f":685,"v":0.085},{"x":960,"e":1004,"y":653,"f":685,"v":0.09},{"x":1004,"e":1045,"y":653,"f":685,"v":0.085},
{"x":0,"e":358,"y":685,"f":740,"v":0.17},{"x":358,"e":395,"y":685,"f":740,"v":0.085},{"x":395,"e":461,"y":685,"f":740,"v":0.13},{"x":461,"e":519,"y":685,"f":740,"v":0.1},{"x":519,"e":574,"y":685,"f":740,"v":0.3},{"x":574,"e":646,"y":685,"f":740,"v":0.075},{"x":646,"e":737,"y":685,"f":740,"v":0.1},{"x":737,"e":774,"y":685,"f":740,"v":0.072},{"x":774,"e":861,"y":685,"f":740,"v":0.105},{"x":861,"e":913,"y":685,"f":740,"v":0.16},{"x":913,"e":960,"y":685,"f":740,"v":0.072},{"x":960,"e":1004,"y":685,"f":740,"v":0.095},{"x":1004,"e":1045,"y":685,"f":740,"v":0.11},
{"x":0,"e":358,"y":740,"f":754,"v":0.2},{"x":358,"e":395,"y":740,"f":754,"v":0.072},{"x":395,"e":461,"y":740,"f":754,"v":0.075},{"x":461,"e":519,"y":740,"f":754,"v":0.13},{"x":519,"e":574,"y":740,"f":754,"v":0.2},{"x":574,"e":646,"y":740,"f":754,"v":0.075},{"x":646,"e":737,"y":740,"f":754,"v":0.09},{"x":737,"e":774,"y":740,"f":754,"v":0.072},{"x":774,"e":861,"y":740,"f":754,"v":0.08},{"x":861,"e":913,"y":740,"f":754,"v":0.09},{"x":913,"e":960,"y":740,"f":754,"v":0.075},{"x":960,"e":1004,"y":740,"f":754,"v":0.08},{"x":1004,"e":1045,"y":740,"f":754,"v":0.1},
{"x":0,"e":358,"y":754,"f":777,"v":0.125},{"x":358,"e":395,"y":754,"f":777,"v":0.1},{"x":395,"e":461,"y":754,"f":777,"v":0.13},{"x":461,"e":519,"y":754,"f":777,"v":0.085},{"x":519,"e":574,"y":754,"f":777,"v":0.1},{"x":574,"e":646,"y":754,"f":777,"v":0.09},{"x":646,"e":737,"y":754,"f":777,"v":0.12},{"x":737,"e":774,"y":754,"f":777,"v":0.07},{"x":774,"e":861,"y":754,"f":777,"v":0.075},{"x":861,"e":913,"y":754,"f":777,"v":0.085},{"x":913,"e":960,"y":754,"f":777,"v":0.07},{"x":960,"e":1004,"y":754,"f":777,"v":0.07},{"x":1004,"e":1045,"y":754,"f":777,"v":0.09},
{"x":0,"e":358,"y":777,"f":813,"v":0.15},{"x":358,"e":395,"y":777,"f":813,"v":0.1},{"x":395,"e":461,"y":777,"f":813,"v":0.33},{"x":461,"e":519,"y":777,"f":813,"v":0.1},{"x":519,"e":574,"y":777,"f":813,"v":0.1},{"x":574,"e":646,"y":777,"f":813,"v":0.1},{"x":646,"e":737,"y":777,"f":813,"v":0.17},{"x":737,"e":774,"y":777,"f":813,"v":0.085},{"x":774,"e":861,"y":777,"f":813,"v":0.09},{"x":861,"e":913,"y":777,"f":813,"v":0.1},{"x":913,"e":960,"y":777,"f":813,"v":0.085},{"x":960,"e":1004,"y":777,"f":813,"v":0.08},{"x":1004,"e":1045,"y":777,"f":813,"v":0.08},
{"x":0,"e":358,"y":813,"f":833,"v":0.085},{"x":358,"e":395,"y":813,"f":833,"v":0.085},{"x":395,"e":461,"y":813,"f":833,"v":0.09},{"x":461,"e":519,"y":813,"f":833,"v":0.09},{"x":519,"e":574,"y":813,"f":833,"v":0.072},{"x":574,"e":646,"y":813,"f":833,"v":0.13},{"x":646,"e":737,"y":813,"f":833,"v":0.12},{"x":737,"e":774,"y":813,"f":833,"v":0.085},{"x":774,"e":861,"y":813,"f":833,"v":0.07},{"x":861,"e":913,"y":813,"f":833,"v":0.07},{"x":913,"e":960,"y":813,"f":833,"v":0.11},{"x":960,"e":1004,"y":813,"f":833,"v":0.072},{"x":1004,"e":1045,"y":813,"f":833,"v":0.072},
{"x":0,"e":358,"y":833,"f":846,"v":0.11},{"x":358,"e":395,"y":833,"f":846,"v":0.09},{"x":395,"e":461,"y":833,"f":846,"v":0.12},{"x":461,"e":519,"y":833,"f":846,"v":0.09},{"x":519,"e":574,"y":833,"f":846,"v":0.09},{"x":574,"e":646,"y":833,"f":846,"v":0.16},{"x":646,"e":737,"y":833,"f":846,"v":0.17},{"x":737,"e":774,"y":833,"f":846,"v":0.085},{"x":774,"e":861,"y":833,"f":846,"v":0.075},{"x":861,"e":913,"y":833,"f":846,"v":0.075},{"x":913,"e":960,"y":833,"f":846,"v":0.11},{"x":960,"e":1004,"y":833,"f":846,"v":0.075},{"x":1004,"e":1045,"y":833,"f":846,"v":0.075},
{"x":0,"e":358,"y":846,"f":870,"v":0.07},{"x":358,"e":395,"y":846,"f":870,"v":0.08},{"x":395,"e":461,"y":846,"f":870,"v":0.09},{"x":461,"e":519,"y":846,"f":870,"v":0.075},{"x":519,"e":574,"y":846,"f":870,"v":0.07},{"x":574,"e":646,"y":846,"f":870,"v":0.07},{"x":646,"e":737,"y":846,"f":870,"v":0.07},{"x":737,"e":774,"y":846,"f":870,"v":0.075},{"x":774,"e":861,"y":846,"f":870,"v":0.28},{"x":861,"e":913,"y":846,"f":870,"v":0.12},{"x":913,"e":960,"y":846,"f":870,"v":0.075},{"x":960,"e":1004,"y":846,"f":870,"v":0.11},{"x":1004,"e":1045,"y":846,"f":870,"v":0.075},
{"x":0,"e":358,"y":870,"f":890,"v":0.072},{"x":358,"e":395,"y":870,"f":890,"v":0.08},{"x":395,"e":461,"y":870,"f":890,"v":0.09},{"x":461,"e":519,"y":870,"f":890,"v":0.075},{"x":519,"e":574,"y":870,"f":890,"v":0.07},{"x":574,"e":646,"y":870,"f":890,"v":0.07},{"x":646,"e":737,"y":870,"f":890,"v":0.07},{"x":737,"e":774,"y":870,"f":890,"v":0.075},{"x":774,"e":861,"y":870,"f":890,"v":0.3},{"x":861,"e":913,"y":870,"f":890,"v":0.13},{"x":913,"e":960,"y":870,"f":890,"v":0.075},{"x":960,"e":1004,"y":870,"f":890,"v":0.12},{"x":1004,"e":1045,"y":870,"f":890,"v":0.075},
{"x":0,"e":358,"y":890,"f":960,"v":0.4},{"x":358,"e":395,"y":890,"f":960,"v":0.085},{"x":395,"e":461,"y":890,"f":960,"v":0.14},{"x":461,"e":475,"y":890,"f":960,"v":0.33},{"x":475,"e":500,"y":890,"f":960,"v":0.22},{"x":500,"e":519,"y":890,"f":960,"v":0.27},{"x":519,"e":540,"y":890,"f":960,"v":0.22},{"x":540,"e":574,"y":890,"f":960,"v":0.26},{"x":574,"e":646,"y":890,"f":960,"v":0.085},{"x":646,"e":737,"y":890,"f":960,"v":0.16},{"x":737,"e":774,"y":890,"f":960,"v":0.07},{"x":774,"e":861,"y":890,"f":960,"v":0.075},{"x":861,"e":913,"y":890,"f":960,"v":0.1},{"x":913,"e":960,"y":890,"f":960,"v":0.075},{"x":960,"e":1004,"y":890,"f":960,"v":0.075},{"x":1004,"e":1045,"y":890,"f":960,"v":0.12},
{"x":0,"e":358,"y":960,"f":1021,"v":0.21},{"x":358,"e":395,"y":960,"f":1021,"v":0.08},{"x":395,"e":461,"y":960,"f":1021,"v":0.12},{"x":461,"e":519,"y":960,"f":1021,"v":0.12},{"x":519,"e":574,"y":960,"f":1021,"v":0.18},{"x":574,"e":646,"y":960,"f":1021,"v":0.08},{"x":646,"e":737,"y":960,"f":1021,"v":0.12},{"x":737,"e":774,"y":960,"f":1021,"v":0.07},{"x":774,"e":861,"y":960,"f":1021,"v":0.075},{"x":861,"e":913,"y":960,"f":1021,"v":0.09},{"x":913,"e":960,"y":960,"f":1021,"v":0.075},{"x":960,"e":1004,"y":960,"f":1021,"v":0.08},{"x":1004,"e":1045,"y":960,"f":1021,"v":0.09},
{"x":0,"e":358,"y":1021,"f":1040,"v":0.37},{"x":358,"e":395,"y":1021,"f":1040,"v":0.085},{"x":395,"e":461,"y":1021,"f":1040,"v":0.11},{"x":461,"e":519,"y":1021,"f":1040,"v":0.2},{"x":519,"e":574,"y":1021,"f":1040,"v":0.3},{"x":574,"e":646,"y":1021,"f":1040,"v":0.085},{"x":646,"e":737,"y":1021,"f":1040,"v":0.15},{"x":737,"e":774,"y":1021,"f":1040,"v":0.072},{"x":774,"e":861,"y":1021,"f":1040,"v":0.085},{"x":861,"e":913,"y":1021,"f":1040,"v":0.1},{"x":913,"e":960,"y":1021,"f":1040,"v":0.075},{"x":960,"e":1004,"y":1021,"f":1040,"v":0.08},{"x":1004,"e":1045,"y":1021,"f":1040,"v":0.085},
{"x":375,"e":390,"y":495,"f":889,"v":0.09},
{"x":0,"e":358,"y":108,"f":121,"v":0.08},{"x":0,"e":358,"y":217,"f":226,"v":0.12},{"x":0,"e":358,"y":226,"f":243,"v":0.105},{"x":0,"e":358,"y":243,"f":260,"v":0.125},{"x":60,"e":180,"y":243,"f":260,"v":0.15},{"x":60,"e":180,"y":253,"f":260,"v":0.18},{"x":180,"e":300,"y":253,"f":258,"v":0.15},{"x":0,"e":358,"y":260,"f":275,"v":0.09},{"x":0,"e":358,"y":349,"f":352,"v":0.17},{"x":0,"e":55,"y":331,"f":349,"v":0.13},{"x":0,"e":358,"y":532,"f":540,"v":0.19},{"x":0,"e":358,"y":579,"f":593,"v":0.16},{"x":60,"e":358,"y":686,"f":718,"v":0.185},{"x":60,"e":358,"y":718,"f":740,"v":0.23},{"x":0,"e":358,"y":742,"f":749,"v":0.23},{"x":0,"e":358,"y":765,"f":777,"v":0.16},
{"x":0,"e":58,"y":890,"f":905,"v":0.42},{"x":15,"e":22,"y":890,"f":905,"v":0.72},{"x":58,"e":128,"y":890,"f":905,"v":0.38},{"x":128,"e":159,"y":890,"f":905,"v":0.45},{"x":159,"e":226,"y":890,"f":905,"v":0.65},{"x":226,"e":290,"y":890,"f":905,"v":0.78},{"x":290,"e":359,"y":890,"f":905,"v":0.66},
{"x":0,"e":58,"y":905,"f":919,"v":0.55},{"x":58,"e":128,"y":905,"f":919,"v":0.38},{"x":128,"e":159,"y":905,"f":919,"v":0.45},{"x":159,"e":226,"y":905,"f":919,"v":0.62},{"x":226,"e":290,"y":905,"f":919,"v":0.7},{"x":290,"e":359,"y":905,"f":919,"v":0.82},
{"x":0,"e":58,"y":919,"f":933,"v":0.5},{"x":58,"e":128,"y":919,"f":933,"v":0.42},{"x":128,"e":159,"y":919,"f":933,"v":0.6},{"x":159,"e":226,"y":919,"f":933,"v":0.8},{"x":226,"e":290,"y":919,"f":933,"v":0.78},{"x":290,"e":359,"y":919,"f":933,"v":0.75},
{"x":0,"e":58,"y":933,"f":946,"v":0.5},{"x":58,"e":128,"y":933,"f":946,"v":0.55},{"x":128,"e":159,"y":933,"f":946,"v":0.68},{"x":159,"e":226,"y":933,"f":946,"v":0.82},{"x":226,"e":290,"y":933,"f":946,"v":0.6},{"x":290,"e":359,"y":933,"f":946,"v":0.55},
{"x":0,"e":58,"y":946,"f":960,"v":0.38},{"x":58,"e":128,"y":946,"f":960,"v":0.6},{"x":128,"e":159,"y":946,"f":960,"v":0.72},{"x":159,"e":226,"y":946,"f":960,"v":0.62},{"x":226,"e":290,"y":946,"f":960,"v":0.45},{"x":290,"e":359,"y":946,"f":960,"v":0.5},{"x":0,"e":226,"y":946,"f":949,"v":0.35},
{"x":0,"e":58,"y":960,"f":988,"v":0.25},{"x":226,"e":358,"y":960,"f":988,"v":0.23},{"x":0,"e":358,"y":988,"f":1000,"v":0.3},{"x":0,"e":58,"y":1000,"f":1021,"v":0.28},{"x":58,"e":358,"y":1000,"f":1021,"v":0.27},{"x":60,"e":358,"y":1008,"f":1011,"v":0.36},{"x":0,"e":58,"y":1021,"f":1031,"v":0.5},{"x":58,"e":358,"y":1021,"f":1031,"v":0.42},{"x":20,"e":50,"y":1023,"f":1029,"v":0.77},{"x":0,"e":358,"y":1031,"f":1034,"v":0.25},{"x":60,"e":130,"y":1034,"f":1040,"v":0.45},
{"x":359,"e":376,"y":0,"f":59,"v":0.42},{"x":363,"e":371,"y":13,"f":23,"v":0.55},{"x":368,"e":373,"y":37,"f":48,"v":0.8},{"x":376,"e":388,"y":16,"f":59,"v":0.3},{"x":361,"e":376,"y":77,"f":158,"v":0.33},{"x":364,"e":375,"y":77,"f":101,"v":0.45},{"x":387,"e":397,"y":101,"f":158,"v":0.42},{"x":390,"e":397,"y":129,"f":136,"v":0.8},{"x":406,"e":416,"y":60,"f":97,"v":0.22},{"x":423,"e":428,"y":60,"f":155,"v":0.27},{"x":395,"e":461,"y":25,"f":30,"v":0.19},{"x":395,"e":461,"y":97,"f":104,"v":0.2},{"x":395,"e":461,"y":148,"f":153,"v":0.19},{"x":358,"e":397,"y":168,"f":175,"v":0.35},{"x":428,"e":461,"y":217,"f":233,"v":0.27},{"x":361,"e":461,"y":231,"f":239,"v":0.33},{"x":423,"e":428,"y":231,"f":239,"v":0.42},{"x":445,"e":461,"y":231,"f":239,"v":0.38},{"x":380,"e":387,"y":276,"f":354,"v":0.33},{"x":399,"e":409,"y":293,"f":305,"v":0.3},{"x":397,"e":407,"y":331,"f":344,"v":0.38},{"x":359,"e":387,"y":366,"f":410,"v":0.3},{"x":376,"e":387,"y":366,"f":410,"v":0.42},{"x":399,"e":409,"y":384,"f":391,"v":0.22},{"x":376,"e":387,"y":451,"f":494,"v":0.17},
{"x":395,"e":461,"y":495,"f":546,"v":0.33},{"x":428,"e":459,"y":500,"f":526,"v":0.42},{"x":416,"e":423,"y":496,"f":516,"v":0.72},{"x":427,"e":434,"y":500,"f":506,"v":0.7},{"x":435,"e":461,"y":516,"f":530,"v":0.6},{"x":416,"e":423,"y":532,"f":544,"v":0.7},{"x":404,"e":416,"y":546,"f":577,"v":0.6},{"x":418,"e":423,"y":572,"f":579,"v":0.7},{"x":395,"e":461,"y":579,"f":593,"v":0.25},{"x":445,"e":461,"y":579,"f":593,"v":0.38},{"x":399,"e":406,"y":593,"f":626,"v":0.72},{"x":406,"e":425,"y":593,"f":626,"v":0.33},{"x":395,"e":407,"y":626,"f":684,"v":0.45},{"x":399,"e":404,"y":653,"f":667,"v":0.65},{"x":418,"e":423,"y":667,"f":684,"v":0.45},{"x":428,"e":461,"y":667,"f":684,"v":0.33},{"x":399,"e":404,"y":754,"f":776,"v":0.4},{"x":395,"e":459,"y":726,"f":738,"v":0.25},{"x":418,"e":423,"y":726,"f":738,"v":0.42},{"x":463,"e":500,"y":737,"f":754,"v":0.25},{"x":500,"e":518,"y":746,"f":754,"v":0.3},
{"x":416,"e":461,"y":777,"f":813,"v":0.45},{"x":426,"e":461,"y":777,"f":796,"v":0.75},{"x":435,"e":445,"y":779,"f":790,"v":0.85},{"x":452,"e":461,"y":783,"f":791,"v":0.85},{"x":426,"e":461,"y":800,"f":813,"v":0.55},
{"x":519,"e":574,"y":217,"f":232,"v":0.2},{"x":519,"e":526,"y":217,"f":226,"v":0.5},{"x":519,"e":540,"y":240,"f":262,"v":0.35},{"x":521,"e":526,"y":246,"f":260,"v":0.55},{"x":540,"e":574,"y":243,"f":260,"v":0.25},{"x":519,"e":574,"y":495,"f":500,"v":0.2},{"x":543,"e":553,"y":516,"f":546,"v":0.38},{"x":529,"e":574,"y":579,"f":593,"v":0.3},{"x":529,"e":534,"y":688,"f":702,"v":0.7},{"x":539,"e":560,"y":726,"f":735,"v":0.55},{"x":560,"e":574,"y":890,"f":960,"v":0.38},{"x":558,"e":574,"y":947,"f":960,"v":0.6},{"x":529,"e":574,"y":996,"f":1014,"v":0.45},{"x":538,"e":548,"y":1000,"f":1006,"v":0.65},{"x":519,"e":574,"y":1021,"f":1040,"v":0.3},
{"x":625,"e":646,"y":60,"f":97,"v":0.18},{"x":574,"e":646,"y":205,"f":208,"v":0.14},{"x":610,"e":617,"y":205,"f":216,"v":0.3},{"x":625,"e":646,"y":276,"f":331,"v":0.3},{"x":632,"e":646,"y":277,"f":293,"v":0.42},{"x":634,"e":646,"y":312,"f":329,"v":0.7},{"x":630,"e":640,"y":290,"f":296,"v":0.55},{"x":574,"e":646,"y":353,"f":364,"v":0.2},{"x":574,"e":603,"y":359,"f":366,"v":0.38},{"x":606,"e":613,"y":347,"f":352,"v":0.4},{"x":625,"e":646,"y":331,"f":353,"v":0.2},{"x":605,"e":610,"y":410,"f":432,"v":0.45},{"x":627,"e":631,"y":420,"f":427,"v":0.72},{"x":632,"e":646,"y":422,"f":427,"v":0.38},
{"x":684,"e":687,"y":276,"f":360,"v":0.35},{"x":684,"e":687,"y":331,"f":345,"v":0.6},{"x":698,"e":737,"y":331,"f":353,"v":0.27},{"x":698,"e":737,"y":353,"f":363,"v":0.38},{"x":687,"e":698,"y":354,"f":363,"v":0.45},{"x":665,"e":682,"y":331,"f":355,"v":0.3},{"x":687,"e":737,"y":276,"f":331,"v":0.17},{"x":698,"e":737,"y":305,"f":312,"v":0.22},
{"x":753,"e":759,"y":452,"f":464,"v":0.55},{"x":737,"e":753,"y":469,"f":484,"v":0.8},{"x":753,"e":774,"y":469,"f":486,"v":0.47},{"x":737,"e":774,"y":484,"f":498,"v":0.42},{"x":574,"e":603,"y":814,"f":832,"v":0.87},{"x":606,"e":629,"y":813,"f":846,"v":0.2},{"x":617,"e":627,"y":813,"f":846,"v":0.38},{"x":701,"e":737,"y":833,"f":846,"v":0.75},{"x":665,"e":687,"y":833,"f":846,"v":0.33},{"x":687,"e":701,"y":813,"f":846,"v":0.33},{"x":646,"e":701,"y":754,"f":777,"v":0.3},{"x":667,"e":682,"y":753,"f":777,"v":0.5},{"x":670,"e":682,"y":761,"f":768,"v":0.77},{"x":701,"e":737,"y":754,"f":777,"v":0.33},{"x":646,"e":663,"y":890,"f":960,"v":0.33},{"x":646,"e":652,"y":986,"f":990,"v":0.8},{"x":652,"e":737,"y":986,"f":990,"v":0.26},{"x":646,"e":682,"y":653,"f":685,"v":0.33},{"x":701,"e":737,"y":653,"f":685,"v":0.24},{"x":648,"e":666,"y":530,"f":541,"v":0.33},
{"x":774,"e":861,"y":100,"f":155,"v":0.115},{"x":774,"e":861,"y":155,"f":158,"v":0.2},{"x":796,"e":798,"y":100,"f":158,"v":0.25},{"x":774,"e":861,"y":195,"f":205,"v":0.17},{"x":785,"e":799,"y":195,"f":205,"v":0.27},{"x":774,"e":861,"y":260,"f":270,"v":0.2},{"x":774,"e":785,"y":260,"f":270,"v":0.28},{"x":803,"e":810,"y":260,"f":270,"v":0.28},{"x":861,"e":865,"y":0,"f":155,"v":0.2},{"x":861,"e":868,"y":100,"f":155,"v":0.35},{"x":861,"e":870,"y":141,"f":155,"v":0.5},{"x":862,"e":873,"y":217,"f":240,"v":0.37},{"x":866,"e":872,"y":217,"f":233,"v":0.5},{"x":873,"e":915,"y":239,"f":275,"v":0.27},{"x":880,"e":894,"y":258,"f":268,"v":0.82},{"x":891,"e":901,"y":246,"f":253,"v":0.55},{"x":901,"e":915,"y":271,"f":275,"v":0.55},
{"x":774,"e":795,"y":847,"f":869,"v":0.25},{"x":811,"e":861,"y":869,"f":889,"v":0.4},{"x":775,"e":786,"y":870,"f":882,"v":0.87},{"x":825,"e":860,"y":886,"f":890,"v":0.85},{"x":785,"e":789,"y":849,"f":858,"v":0.55},
{"x":916,"e":923,"y":158,"f":170,"v":0.35},{"x":970,"e":977,"y":177,"f":189,"v":0.42},{"x":980,"e":992,"y":190,"f":199,"v":0.4},{"x":994,"e":1004,"y":199,"f":205,"v":0.45},{"x":960,"e":980,"y":101,"f":158,"v":0.2},{"x":965,"e":970,"y":101,"f":158,"v":0.33},{"x":975,"e":980,"y":112,"f":155,"v":0.35},{"x":975,"e":980,"y":0,"f":60,"v":0.18},{"x":1011,"e":1025,"y":244,"f":271,"v":0.2},{"x":1011,"e":1025,"y":271,"f":275,"v":0.38},{"x":965,"e":969,"y":222,"f":240,"v":0.3},{"x":932,"e":960,"y":277,"f":331,"v":0.17},{"x":932,"e":960,"y":366,"f":410,"v":0.14},{"x":932,"e":942,"y":391,"f":400,"v":0.38},{"x":913,"e":920,"y":403,"f":410,"v":0.45},{"x":932,"e":960,"y":412,"f":432,"v":0.22},{"x":932,"e":960,"y":425,"f":432,"v":0.38},{"x":918,"e":930,"y":434,"f":451,"v":0.36},{"x":935,"e":960,"y":451,"f":469,"v":0.18},{"x":946,"e":963,"y":462,"f":469,"v":0.67},{"x":938,"e":942,"y":453,"f":462,"v":0.45},{"x":913,"e":960,"y":469,"f":494,"v":0.18},{"x":936,"e":943,"y":469,"f":494,"v":0.25},
{"x":861,"e":872,"y":779,"f":813,"v":0.2},{"x":861,"e":872,"y":572,"f":593,"v":0.3},{"x":872,"e":910,"y":579,"f":588,"v":0.2},{"x":891,"e":901,"y":684,"f":726,"v":0.25},{"x":865,"e":872,"y":684,"f":720,"v":0.25},{"x":992,"e":1002,"y":847,"f":854,"v":0.3},{"x":1034,"e":1045,"y":744,"f":754,"v":0.3},{"x":1034,"e":1045,"y":1014,"f":1021,"v":0.25},{"x":1034,"e":1045,"y":890,"f":960,"v":0.13},{"x":466,"e":486,"y":961,"f":990,"v":0.6},{"x":478,"e":485,"y":972,"f":979,"v":0.85},{"x":469,"e":476,"y":979,"f":986,"v":0.75},{"x":461,"e":500,"y":989,"f":993,"v":0.65},{"x":500,"e":519,"y":1014,"f":1021,"v":0.4},{"x":463,"e":473,"y":1028,"f":1033,"v":0.6},{"x":529,"e":543,"y":685,"f":726,"v":0.42}
]},"mark":{"type":"rect"},"encoding":{"x":{"field":"x","type":"quantitative","scale":{"domain":[0,1045],"nice":false,"zero":false},"axis":null},"x2":{"field":"e"},"y":{"field":"y","type":"quantitative","scale":{"domain":[0,1040],"reverse":true,"nice":false,"zero":false},"axis":null},"y2":{"field":"f"},"color":{"field":"v","type":"quantitative","legend":null,"scale":{"interpolate":"rgb","domain":[0.037,0.07,0.085,0.105,0.12,0.15,0.175,0.2,0.25,0.33,0.4,0.508,0.65,0.72,0.768,0.87,1],"range":["#67001f","#8b0019","#a00020","#be0c25","#cf1428","#de2c35","#e8423f","#f4604a","#fb8060","#ffa27a","#fdd0b8","#f4f2f0","#aed8ea","#5ab6d8","#00a0cc","#0072b0","#002d62"]}}}},
{"data":{"values":[{"x":0,"e":1045,"y":0,"f":1040}]},"mark":{"type":"rect","fill":null,"stroke":"#ee9aa5","strokeWidth":3},"encoding":{"x":{"field":"x","type":"quantitative"},"x2":{"field":"e"},"y":{"field":"y","type":"quantitative"},"y2":{"field":"f"}}},
{"data":{"values":[{"x":1270,"y":487,"t":"Drugs"}]},"mark":{"type":"text","font":"Noto Sans","fontSize":80,"color":"#000000"},"encoding":{"x":{"field":"x","type":"quantitative"},"y":{"field":"y","type":"quantitative"},"text":{"field":"t"}}},
{"data":{"values":[{"x":490,"y":1113,"t":"Recon2"}]},"mark":{"type":"text","font":"Noto Sans","fontSize":83,"color":"#000000"},"encoding":{"x":{"field":"x","type":"quantitative"},"y":{"field":"y","type":"quantitative"},"text":{"field":"t"}}}
]}
]}
